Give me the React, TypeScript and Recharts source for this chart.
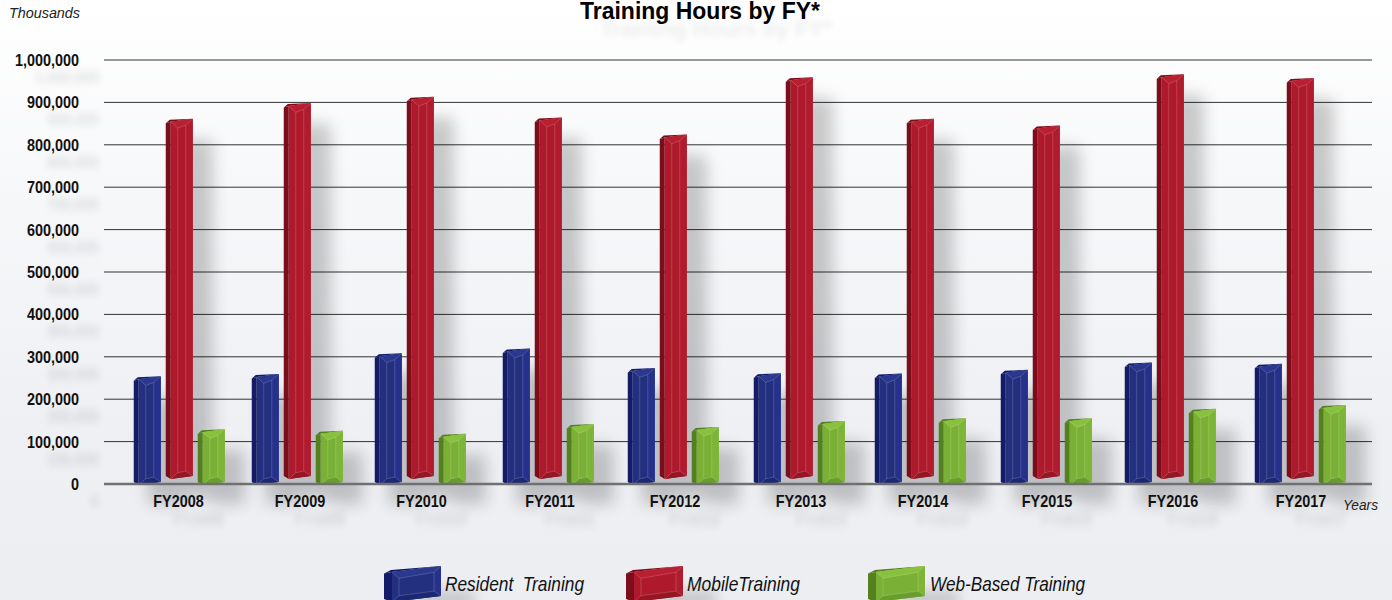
import { BarChart, Bar, XAxis, YAxis, CartesianGrid } from "recharts";

const years = ["FY2008", "FY2009", "FY2010", "FY2011", "FY2012", "FY2013", "FY2014", "FY2015", "FY2016", "FY2017"];
const resident = [252000, 257000, 306000, 317000, 271000, 259000, 258000, 267000, 284000, 281000];
const mobile = [859000, 896000, 911000, 862000, 822000, 957000, 859000, 843000, 964000, 955000];
const webBased = [127000, 123000, 116000, 139000, 132000, 146000, 153000, 153000, 175000, 184000];
const yTicks = [0, 100000, 200000, 300000, 400000, 500000, 600000, 700000, 800000, 900000, 1000000];

const seriesNames = ["Resident  Training", "MobileTraining", "Web-Based Training"];

// the source chart's groups aren't evenly spaced, small shift per group
const groupShift = [0, -6.5, -8, -4.5, -4, -2.5, -6, -4.5, -5, 0.5];
const labelShift = [-0.5, -3.5, -6.5, -2.5, -2, -0.5, -3, -3.5, -2, 1.5];

const blue = { side: "#141c68", face: "#232f7f", top: "#2a388f", bottom: "#1d2873", right: "#25318a" };
const red = { side: "#7c0e1c", face: "#ae1a2b", top: "#b91e31", bottom: "#961624", right: "#b01b2d" };
const green = { side: "#54801f", face: "#79b035", top: "#88c23d", bottom: "#6a9e2c", right: "#7db537" };

const data = years.map((name, i) => ({
  name,
  resident: resident[i],
  mobile: mobile[i],
  webBased: webBased[i],
}));

const textFont = "'Liberation Sans', Arial, sans-serif";

function pts(list: number[][]) {
  return list.map((p) => p.join(",")).join(" ");
}

function BevelBox({ x, y, width, height, colors, skew, sideW, bev }: any) {
  const l = x + sideW;
  const r = x + width;
  const b = y + height;
  // front face corners, the top and bottom edges lean upward to the right
  const tl = [l, y + skew];
  const tr = [r, y];
  const bl = [l, b];
  const br = [r, b - skew];
  const itl = [l + bev, y + skew + bev * 0.9];
  const itr = [r - bev, y + bev * 0.9];
  const ibl = [l + bev, b - bev * 0.9];
  const ibr = [r - bev, b - skew - bev * 0.7];
  const line = "rgba(255,255,255,0.22)";
  return (
    <g>
      <polygon points={pts([[x, y + skew + 1.5], tl, bl, [x, b - 3]])} fill={colors.side} />
      <polygon points={pts([[x, y + skew + 1.5], [l - 1, y + skew - 2], tr, tl])} fill={colors.side} />
      <polygon points={pts([tl, tr, br, bl])} fill={colors.face} />
      <polygon points={pts([tl, tr, itr, itl])} fill={colors.top} />
      <polygon points={pts([itr, tr, br, ibr])} fill={colors.right} />
      <polygon points={pts([ibl, ibr, br, bl])} fill={colors.bottom} />
      <polygon points={pts([itl, itr, ibr, ibl])} fill="none" stroke={line} strokeWidth={0.8} />
      <line x1={tl[0]} y1={tl[1]} x2={itl[0]} y2={itl[1]} stroke={line} strokeWidth={0.8} />
      <line x1={tr[0]} y1={tr[1]} x2={itr[0]} y2={itr[1]} stroke={line} strokeWidth={0.8} />
      <line x1={bl[0]} y1={bl[1]} x2={ibl[0]} y2={ibl[1]} stroke={line} strokeWidth={0.8} />
      <line x1={br[0]} y1={br[1]} x2={ibr[0]} y2={ibr[1]} stroke={line} strokeWidth={0.8} />
    </g>
  );
}

function bevelBar(colors: any, lift: number) {
  return (props: any) => {
    const { x, y, width, height, index } = props;
    const sx = x + groupShift[index];
    const h = height - lift;
    return (
      <g>
        <rect
          x={sx + 14}
          y={y + 20}
          width={width + 6}
          height={h}
          fill="#000"
          opacity={0.2}
          style={{ filter: "blur(8px)" }}
        />
        <BevelBox x={sx} y={y - 1} width={width} height={h + 2} colors={colors} skew={3} sideW={5} bev={7} />
      </g>
    );
  };
}

// labels in the source are a bit condensed, so draw them narrowed
function Label({ x, y, anchor, children, shadow }: any) {
  return (
    <text
      transform={`translate(${x},${y}) scale(0.9,1)`}
      fontFamily={textFont}
      fontWeight={700}
      fontSize={16}
      textAnchor={anchor}
      fill={shadow ? "#000" : "#111"}
      opacity={shadow ? 0.13 : 1}
      style={shadow ? { filter: "blur(4px)" } : undefined}
    >
      {children}
    </text>
  );
}

function YTick({ x, y, payload }: any) {
  const label = payload.value.toLocaleString("en-US");
  return (
    <g>
      <Label x={x + 20} y={y + 23} anchor="end" shadow>
        {label}
      </Label>
      <Label x={x} y={y + 6} anchor="end">
        {label}
      </Label>
    </g>
  );
}

function XTick({ x, y, payload, index }: any) {
  const cx = x + labelShift[index];
  return (
    <g>
      <Label x={cx + 20} y={y + 33} anchor="middle" shadow>
        {payload.value}
      </Label>
      <Label x={cx} y={y + 15} anchor="middle">
        {payload.value}
      </Label>
    </g>
  );
}

function Annotations() {
  return (
    <g fontFamily={textFont}>
      <text x={716} y={37} textAnchor="middle" fontSize={23} fontWeight={700} textLength={232} lengthAdjust="spacingAndGlyphs" fill="#000" opacity={0.07} style={{ filter: "blur(3px)" }}>
        Training Hours by FY*
      </text>
      <text x={700} y={19} textAnchor="middle" fontSize={24} fontWeight={700} textLength={240} lengthAdjust="spacingAndGlyphs" fill="#000">
        Training Hours by FY*
      </text>
      <text x={9} y={18} fontSize={15} fontStyle="italic" textLength={71} lengthAdjust="spacingAndGlyphs" fill="#222">
        Thousands
      </text>
      <text x={1343} y={510} fontSize={15} fontStyle="italic" textLength={35} lengthAdjust="spacingAndGlyphs" fill="#222">
        Years
      </text>
    </g>
  );
}

const legendColors = [blue, red, green];
const legendSwatchX = [384, 626, 868];
const legendTextX = [445, 687, 930];
const legendTextW = [139, 113, 155];

function ChartLegend() {
  return (
    <g fontFamily={textFont}>
      {seriesNames.map((name, i) => (
        <g key={name}>
          <rect x={legendSwatchX[i] + 34} y={590} width={56} height={20} fill="#000" opacity={0.16} style={{ filter: "blur(7px)" }} />
          <BevelBox x={legendSwatchX[i]} y={566} width={57} height={36} colors={legendColors[i]} skew={6} sideW={8} bev={7} />
          <text
            x={legendTextX[i]}
            y={591}
            fontSize={21}
            fontStyle="italic"
            textLength={legendTextW[i]}
            lengthAdjust="spacingAndGlyphs"
            fill="#111"
            style={{ whiteSpace: "pre" }}
          >
            {name}
          </text>
        </g>
      ))}
    </g>
  );
}

export default function App() {
  return (
    <div
      style={{
        position: "absolute",
        left: 0,
        top: 0,
        width: 1392,
        height: 600,
        overflow: "hidden",
        background: "linear-gradient(to bottom, #ffffff 0%, #f6f7f9 35%, #eef0f4 70%, #eceef2 100%)",
      }}
    >
      <BarChart
        width={1392}
        height={600}
        data={data}
        barSize={27}
        barGap={5}
        margin={{ top: 60, right: 20, bottom: 86, left: 0 }}
      >
        <CartesianGrid vertical={false} stroke="#333" strokeWidth={1} />
        <XAxis
          dataKey="name"
          height={30}
          interval={0}
          padding={{ left: 12.75, right: 10.25 }}
          axisLine={{ stroke: "#707070", strokeWidth: 2.5 }}
          tickLine={false}
          tick={XTick}
        />
        <YAxis
          width={104}
          domain={[0, 1000000]}
          ticks={yTicks}
          axisLine={false}
          tickLine={false}
          tickSize={0}
          tickMargin={25}
          tick={YTick}
        />
        <Bar dataKey="resident" name={seriesNames[0]} fill={blue.face} shape={bevelBar(blue, 0)} isAnimationActive={false} />
        <Bar dataKey="mobile" name={seriesNames[1]} fill={red.face} shape={bevelBar(red, 6)} isAnimationActive={false} />
        <Bar dataKey="webBased" name={seriesNames[2]} fill={green.face} shape={bevelBar(green, 0)} isAnimationActive={false} />
        <Annotations />
        <ChartLegend />
      </BarChart>
    </div>
  );
}
